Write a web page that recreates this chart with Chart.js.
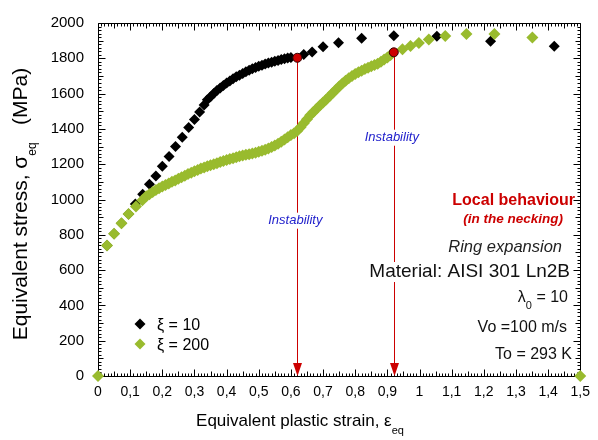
<!DOCTYPE html>
<html>
<head>
<meta charset="utf-8">
<script src="https://cdn.jsdelivr.net/npm/chart.js@4.4.1/dist/chart.umd.min.js"></script>
<style>
  body { margin: 0; background: #fff; }
  #wrap { width: 598px; height: 440px; }
</style>
</head>
<body>
<div id="wrap"><canvas id="chart"></canvas></div>
<script>
// xi = 10 (black diamonds)
const strainXi10 = [0.028, 0.05, 0.073, 0.095, 0.116, 0.139, 0.16, 0.18, 0.2, 0.221, 0.241, 0.262, 0.282, 0.3, 0.316, 0.33,
  0.34, 0.35, 0.36, 0.37, 0.38, 0.39, 0.40, 0.41, 0.42, 0.43, 0.44, 0.45, 0.46, 0.47, 0.48, 0.49, 0.50,
  0.51, 0.52, 0.53, 0.54, 0.55, 0.56, 0.57, 0.58, 0.59, 0.60, 0.64, 0.666, 0.70, 0.748, 0.82, 0.92, 1.054, 1.221, 1.419];
const stressXi10 = [740, 806, 866, 918, 975, 1030, 1086, 1133, 1188, 1244, 1300, 1352, 1408, 1453, 1496, 1535,
  1565, 1582, 1600, 1618, 1632, 1646, 1660, 1672, 1684, 1695, 1704, 1714, 1724, 1733, 1741, 1748, 1755,
  1761, 1767, 1773, 1778, 1783, 1788, 1793, 1797, 1801, 1805, 1821, 1836, 1866, 1888, 1914, 1928, 1925, 1896, 1868];

// xi = 200 (green diamonds)
const strainXi200 = [0, 0.028, 0.05, 0.073, 0.095, 0.118, 0.138,
  0.15, 0.16, 0.17, 0.18, 0.19, 0.20, 0.21, 0.22, 0.23, 0.24, 0.25, 0.26, 0.27, 0.28, 0.29, 0.30,
  0.31, 0.32, 0.33, 0.34, 0.35, 0.36, 0.37, 0.38, 0.39, 0.40, 0.41, 0.42, 0.43, 0.44, 0.45, 0.46,
  0.47, 0.48, 0.49, 0.50, 0.51, 0.52, 0.53, 0.54, 0.55, 0.56, 0.57, 0.58, 0.59, 0.60, 0.61, 0.62,
  0.63, 0.64, 0.65, 0.66, 0.67, 0.68, 0.69, 0.70, 0.71, 0.72, 0.73, 0.74, 0.75, 0.76, 0.77, 0.78,
  0.79, 0.80, 0.81, 0.82, 0.83, 0.84, 0.85, 0.86, 0.87, 0.88, 0.89, 0.90, 0.91,
  0.947, 0.972, 0.998, 1.029, 1.08, 1.146, 1.233, 1.351, 1.5];
const stressXi200 = [0, 740, 806, 866, 918, 960, 996,
  1018, 1030, 1042, 1054, 1064, 1073, 1082, 1091, 1100, 1108, 1117, 1126, 1135, 1145, 1152, 1160,
  1167, 1175, 1182, 1188, 1194, 1200, 1206, 1212, 1218, 1224, 1229, 1234, 1240, 1245, 1249, 1253,
  1257, 1261, 1265, 1270, 1276, 1282, 1289, 1297, 1306, 1316, 1327, 1340, 1353, 1365, 1376, 1390,
  1410, 1432, 1455, 1477, 1496, 1514, 1532, 1550, 1567, 1585, 1604, 1622, 1640, 1657, 1673, 1687,
  1700, 1711, 1721, 1730, 1739, 1747, 1755, 1762, 1769, 1780, 1793, 1805, 1818,
  1851, 1870, 1886, 1906, 1926, 1937, 1937, 1918, 0];

// instability points (red circles)
const instabilityStrain = [0.62, 0.92];
const instabilityStress = [1803, 1834];

const FONT = "'Liberation Sans', Arial, sans-serif";
const toXY = (xs, ys) => xs.map((x, i) => ({ x: x, y: ys[i] }));

const annotations = {
  id: 'annotations',
  beforeDatasetsDraw(chart) {
    const ctx = chart.ctx;
    const xs = chart.scales.x, ys = chart.scales.y;
    const a = chart.chartArea;
    const L = Math.round(a.left) + 0.5, R = Math.round(a.right) + 0.5;
    const T = Math.round(a.top) + 0.5, B = Math.round(a.bottom) + 0.5;
    ctx.save();
    ctx.setLineDash([]);
    ctx.lineWidth = 1;

    // frame and inward ticks on all four sides
    ctx.strokeStyle = '#000000';
    ctx.beginPath();
    ctx.moveTo(L, T); ctx.lineTo(R, T); ctx.lineTo(R, B); ctx.lineTo(L, B); ctx.closePath();
    for (let i = 0; i <= 150; i++) {
      const px = Math.round(xs.getPixelForValue(i / 100)) + 0.5;
      const len = i % 10 === 0 ? 7 : (i % 5 === 0 ? 5 : 3);
      ctx.moveTo(px, B); ctx.lineTo(px, B - len);
      ctx.moveTo(px, T); ctx.lineTo(px, T + len);
    }
    for (let v = 0; v <= 2000; v += 20) {
      const py = Math.round(ys.getPixelForValue(v)) + 0.5;
      const len = v % 200 === 0 ? 7 : (v % 100 === 0 ? 5 : 3);
      ctx.moveTo(L, py); ctx.lineTo(L + len, py);
      ctx.moveTo(R, py); ctx.lineTo(R - len, py);
    }
    ctx.stroke();

    // instability arrows
    ctx.strokeStyle = '#CC0000';
    ctx.fillStyle = '#CC0000';
    instabilityStrain.forEach((s, i) => {
      const px = Math.round(xs.getPixelForValue(s)) + 0.5;
      const py = ys.getPixelForValue(instabilityStress[i]);
      ctx.beginPath();
      ctx.moveTo(px, py);
      ctx.lineTo(px, a.bottom - 12);
      ctx.stroke();
      ctx.beginPath();
      ctx.moveTo(px - 4.5, a.bottom - 13);
      ctx.lineTo(px + 4.5, a.bottom - 13);
      ctx.lineTo(px, a.bottom);
      ctx.closePath();
      ctx.fill();
    });
    ctx.restore();
  },
  afterDatasetsDraw(chart) {
    const ctx = chart.ctx;
    const xs = chart.scales.x, ys = chart.scales.y;
    ctx.save();
    // Instability labels on the arrows
    const labelStress = [880, 1350];
    ctx.font = 'italic 13px ' + FONT;
    ctx.textAlign = 'center';
    ctx.textBaseline = 'middle';
    instabilityStrain.forEach((s, i) => {
      const px = xs.getPixelForValue(s) - 2;
      const py = ys.getPixelForValue(labelStress[i]);
      const w = ctx.measureText('Instability').width;
      ctx.fillStyle = '#fff';
      ctx.fillRect(px - w / 2 - 1, py - 8, w + 2, 16);
      ctx.fillStyle = '#2222CC';
      ctx.fillText('Instability', px, py);
    });

    // text block on the right
    ctx.textAlign = 'right';
    ctx.fillStyle = '#CC0000';
    ctx.font = 'bold 16px ' + FONT;
    ctx.fillText('Local behaviour', 575, 201);
    ctx.font = 'italic bold 13.5px ' + FONT;
    ctx.fillText('(in the necking)', 563, 219);

    ctx.fillStyle = '#222';
    ctx.font = 'italic 16.5px ' + FONT;
    ctx.fillText('Ring expansion', 562, 247);

    ctx.font = '19px ' + FONT;
    const mat = 'Material: AISI 301 Ln2B';
    const mw = ctx.measureText(mat).width;
    ctx.fillStyle = '#fff';
    ctx.fillRect(570 - mw - 2, 262, mw + 4, 20);
    ctx.fillStyle = '#111';
    ctx.fillText(mat, 570, 272);

    // lambda_0 = 10
    ctx.font = '16px ' + FONT;
    const tail = ' = 10';
    const tw = ctx.measureText(tail).width;
    const lw = ctx.measureText('\u03bb').width;
    ctx.font = '11px ' + FONT;
    const sw = ctx.measureText('0').width;
    const x0 = 568 - tw - sw - lw;
    ctx.textAlign = 'left';
    ctx.font = '16px ' + FONT;
    ctx.fillText('\u03bb', x0, 298);
    ctx.font = '11px ' + FONT;
    ctx.fillText('0', x0 + lw, 306);
    ctx.font = '16px ' + FONT;
    ctx.fillText(tail, x0 + lw + sw, 298);

    ctx.textAlign = 'right';
    ctx.fillText('Vo =100 m/s', 567, 328);
    ctx.fillText('To = 293 K', 572, 355);
    ctx.restore();
  },
  afterDraw(chart) {
    const ctx = chart.ctx;
    ctx.save();

    // legend
    const legend = [['#000000', '\u03be = 10', 324], ['#99BB2E', '\u03be = 200', 344]];
    ctx.font = '16px ' + FONT;
    ctx.textBaseline = 'middle';
    ctx.textAlign = 'left';
    legend.forEach(([c, t, y]) => {
      ctx.fillStyle = c;
      ctx.beginPath();
      ctx.moveTo(140, y - 5.5); ctx.lineTo(145.5, y);
      ctx.lineTo(140, y + 5.5); ctx.lineTo(134.5, y);
      ctx.closePath(); ctx.fill();
      ctx.fillStyle = '#000';
      ctx.fillText(t, 157, y + 2);
    });

    // axis titles with subscripts
    ctx.fillStyle = '#000';
    ctx.textBaseline = 'alphabetic';
    const drawTitle = (main, tailText, size, subSize, subDy) => {
      ctx.font = size + 'px ' + FONT;
      const w1 = ctx.measureText(main).width;
      const w3 = ctx.measureText(tailText).width;
      ctx.font = subSize + 'px ' + FONT;
      const w2 = ctx.measureText('eq').width;
      const x = -(w1 + w2 + w3) / 2;
      ctx.font = size + 'px ' + FONT;
      ctx.fillText(main, x, 0);
      ctx.font = subSize + 'px ' + FONT;
      ctx.fillText('eq', x + w1, subDy);
      ctx.font = size + 'px ' + FONT;
      ctx.fillText(tailText, x + w1 + w2, 0);
    };
    ctx.save();
    ctx.translate(300, 426);
    drawTitle('Equivalent plastic strain, \u03b5', '', 17, 11, 8);
    ctx.restore();
    ctx.save();
    ctx.translate(27, 204);
    ctx.rotate(-Math.PI / 2);
    drawTitle('Equivalent stress, \u03c3', '   (MPa)', 21, 12, 9);
    ctx.restore();
    ctx.restore();
  }
};

new Chart(document.getElementById('chart'), {
  type: 'scatter',
  data: {
    datasets: [
      {
        label: 'Instability',
        data: toXY(instabilityStrain, instabilityStress),
        pointStyle: 'circle',
        pointRadius: 4.5,
        backgroundColor: '#CC0000',
        borderColor: '#330000',
        borderWidth: 1
      },
      {
        label: '\u03be = 200',
        data: toXY(strainXi200, stressXi200),
        pointStyle: 'rectRot',
        pointRadius: 6,
        backgroundColor: '#99BB2E',
        borderWidth: 0,
        clip: false
      },
      {
        label: '\u03be = 10',
        data: toXY(strainXi10, stressXi10),
        pointStyle: 'rectRot',
        pointRadius: 5.5,
        backgroundColor: '#000000',
        borderWidth: 0,
        clip: false
      }
    ]
  },
  options: {
    responsive: true,
    maintainAspectRatio: false,
    animation: false,
    layout: { padding: { top: 18, right: 11, left: 0, bottom: 0 } },
    plugins: { legend: { display: false }, tooltip: { enabled: false } },
    scales: {
      x: {
        type: 'linear',
        min: 0, max: 1.5,
        grid: { display: false, drawTicks: false },
        border: { display: false },
        ticks: {
          stepSize: 0.1,
          autoSkip: false,
          maxRotation: 0,
          padding: 8,
          color: '#000',
          font: { family: FONT, size: 14 },
          callback: v => String(Math.round(v * 10) / 10).replace('.', ',')
        },
        afterFit: s => { s.height = 64; }
      },
      y: {
        type: 'linear',
        min: 0, max: 2000,
        grid: { display: false, drawTicks: false },
        border: { display: false },
        ticks: {
          stepSize: 200,
          padding: 14,
          color: '#000',
          font: { family: FONT, size: 15 },
          callback: v => String(v)
        },
        afterFit: s => { s.width = 98; }
      }
    }
  },
  plugins: [annotations]
});
</script>
</body>
</html>
